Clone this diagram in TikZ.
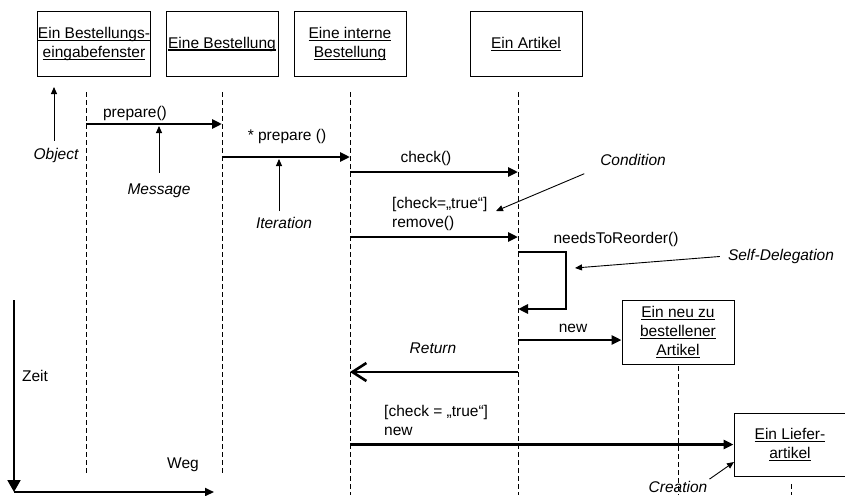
\documentclass[tikz,border=0pt]{standalone}
\usepackage{fontspec}
\setmainfont{Liberation Sans}
\usetikzlibrary{arrows.meta}

% underlined object name, rule at a fixed depth
\newcommand{\ulname}[1]{\setbox0=\hbox{#1}\rlap{\rule[-2.6pt]{\wd0}{1.3pt}}\box0}

\begin{document}
\begin{tikzpicture}[x=1pt,y=-1pt,
    font=\fontsize{15.5}{19}\selectfont,
    obj/.style={draw,line width=1pt,minimum width=112pt,minimum height=64pt,inner sep=0pt,align=center},
    lifeline/.style={dash pattern=on 5pt off 3pt,line width=0.9pt},
    msg/.style={line width=2.6pt,-{Triangle[length=10pt,width=9pt]}},
    retmsg/.style={line width=2.6pt,-{Straight Barb[length=14pt,width=18pt,line width=2.6pt]}},
    note/.style={line width=0.9pt,-{Triangle[length=7pt,width=6pt]}},
    lbl/.style={inner sep=2pt},
    remark/.style={inner sep=2pt,font=\fontsize{15.5}{19}\selectfont\itshape}]
  \useasboundingbox (0,0) rectangle (845,495);
  \clip (0,0) rectangle (845,495);

  % objects
  \node[obj] (eingabe) at (94,44) {\ulname{Ein Bestellungs-}\\\ulname{eingabefenster}};
  \node[obj] (bestlg) at (222,44) {\ulname{Eine Bestellung}};
  \node[obj] (intern) at (350,44) {\ulname{Eine interne}\\\ulname{Bestellung}};
  \node[obj] (artikel) at (526,44) {\ulname{Ein Artikel}};
  \node[obj] (neuart) at (678,332) {\ulname{Ein neu zu}\\\ulname{bestellener}\\\ulname{Artikel}};
  \node[obj,minimum height=63pt] (liefer) at (790,444.5) {\ulname{Ein Liefer-}\\\ulname{artikel}};

  % lifelines
  \coordinate (L1) at (86,92);
  \coordinate (L2) at (222,92);
  \coordinate (L3) at (350,92);
  \coordinate (L4) at (518,92);
  \coordinate (L5) at (678,366);
  \coordinate (L6) at (791,484);
  \draw[lifeline] (L1) -- (L1 |- 0,474);
  \draw[lifeline] (L2) -- (L2 |- 0,474);
  \draw[lifeline] (L3) -- (L3 |- 0,495);
  \draw[lifeline] (L4) -- (L4 |- 0,495);
  \draw[lifeline] (L5) -- (L5 |- 0,495);
  \draw[lifeline] (L6) -- (L6 |- 0,495);

  % messages
  \draw[msg] (L1 |- 0,124) -- (L2 |- 0,124);
  \draw[msg] (L2 |- 0,157) -- (L3 |- 0,157);
  \draw[msg] (L3 |- 0,172) -- (L4 |- 0,172);
  \draw[msg] (L3 |- 0,237) -- (L4 |- 0,237);
  \draw[msg] (L4 |- 0,252) -- ++(48,0) -- ++(0,57) -- (L4 |- 0,309);
  \draw[msg] (L4 |- 0,340) -- (neuart.west |- 0,340);
  \draw[retmsg] (L4 |- 0,372) -- (L3 |- 0,372);
  \draw[msg] (L3 |- 0,444.5) -- (liefer.west);

  \node[lbl] (prep) at (135,113) {prepare()};
  \node[lbl] (prepit) at (287,136) {* prepare ()};
  \node[lbl] (chk) at (426,158) {check()};
  \node[lbl,anchor=west,align=left] (guard) at (390,213.5) {[check=„true“]\\remove()};
  \node[lbl] (reord) at (616,239) {needsToReorder()};
  \node[lbl] (newlbl) at (573,328) {new};
  \node[lbl,anchor=west,align=left] (guard2) at (382,420.5) {[check = „true“]\\new};

  % remarks
  \node[remark] (objrem) at (56,155) {Object};
  \node[remark] (msgrem) at (159,191) {Message};
  \node[remark] (itrem) at (284,223) {Iteration};
  \node[remark] (condrem) at (633,160) {Condition};
  \node[remark] (selfrem) at (781,256) {Self-Delegation};
  \node[remark] (retrem) at (433,348) {Return};
  \node[remark] (crearem) at (678,487) {Creation};

  \coordinate (objtip) at (54,87);
  \coordinate (msgtip) at (159,126);
  \coordinate (ittip) at (279,159);
  \coordinate (condtip) at (496,211);
  \coordinate (selftip) at (575,268);
  \coordinate (creatip) at (734,462);
  \draw[note,shorten <=5pt] (objrem.north -| objtip) -- (objtip);
  \draw[note,shorten <=9pt] (msgrem.north) -- (msgtip);
  \draw[note,shorten <=4pt] (itrem.north -| ittip) -- (ittip);
  \draw[note,shorten <=15pt] (condrem.south west) -- (condtip);
  \draw[note,shorten <=6pt] (selfrem.west) -- (selftip);
  \draw[note] (crearem.north east) -- (creatip);

  % Zeit / Weg
  \coordinate (zeittop) at (14,300);
  \coordinate (origin) at (14,492);
  \coordinate (wegend) at (214,492);
  \draw[line width=2pt,-{Triangle[length=12pt,width=13pt]}] (zeittop) -- (origin);
  \draw[line width=2pt,-{Triangle[length=9pt,width=8pt]}] (origin) -- (wegend);
  \node[lbl] (zeit) at (35,376) {Zeit};
  \node[lbl] (weg) at (183,465) {Weg};
\end{tikzpicture}
\end{document}
